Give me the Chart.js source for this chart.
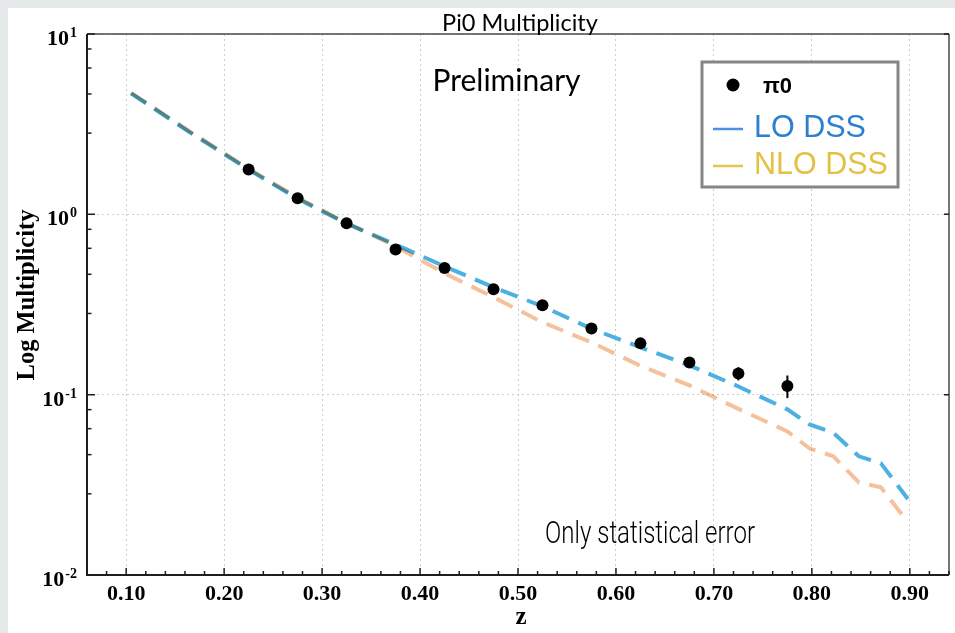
<!DOCTYPE html>
<html>
<head>
<meta charset="utf-8">
<title>Pi0 Multiplicity</title>
<script src="https://cdn.jsdelivr.net/npm/chart.js@4.4.1/dist/chart.umd.min.js"></script>
<style>
  html, body { margin: 0; padding: 0; background: #e4e8e9; }
  body { width: 955px; height: 633px; position: relative; overflow: hidden; }
  #chart { position: absolute; left: 8px; top: 8px; background: #ffffff; }
</style>
</head>
<body>
<canvas id="chart" width="947" height="625"></canvas>
<script>
// measured pi0 points (z bin centres) with statistical errors
const zData = [0.225, 0.275, 0.325, 0.375, 0.425, 0.475, 0.525, 0.575, 0.625, 0.675, 0.725, 0.775];
const pi0Mult = [1.77, 1.227, 0.892, 0.639, 0.504, 0.384, 0.313, 0.233, 0.1925, 0.151, 0.131, 0.1117];
const pi0Err = [0.02, 0.012, 0.008, 0.006, 0.005, 0.004, 0.004, 0.004, 0.004, 0.005, 0.011, 0.016];

// model curves
const zTheory = [0.105, 0.165, 0.225, 0.275, 0.325, 0.375, 0.425, 0.475, 0.525, 0.575, 0.625, 0.675, 0.725, 0.775, 0.7975, 0.822, 0.848, 0.8705, 0.898];
const loDss = [4.69, 2.85, 1.77, 1.22, 0.89, 0.68, 0.515, 0.394, 0.309, 0.232, 0.183, 0.1454, 0.111, 0.0829, 0.0684, 0.0614, 0.0455, 0.0416, 0.0264];
const nloDss = [4.72, 2.88, 1.79, 1.24, 0.895, 0.665, 0.471, 0.347, 0.252, 0.195, 0.1445, 0.1127, 0.0834, 0.0626, 0.0504, 0.0455, 0.0326, 0.0306, 0.0196];

// axis ticks
const xTickValues = [0.1, 0.2, 0.3, 0.4, 0.5, 0.6, 0.7, 0.8, 0.9];
const xTickLabels = ['0.10', '0.20', '0.30', '0.40', '0.50', '0.60', '0.70', '0.80', '0.90'];
const yTickValues = [10, 1, 0.1, 0.01];
const yTickExps = ['1', '0', '-1', '-2'];
const yMinorFactors = [0.826, 0.648, 0.465, 0.282];

const legendItems = ['\u03c00', 'LO DSS', 'NLO DSS'];

function near(a, b) { return Math.abs(a - b) < 1e-6; }
function xMajorIndex(v) { return xTickValues.findIndex(t => near(t, v)); }
function isDecade(v) {
  const l = Math.log10(v);
  return Math.abs(l - Math.round(l)) < 1e-6;
}

const toPoints = (xs, ys) => xs.map((x, i) => ({ x: x, y: ys[i] }));

const decorPlugin = {
  id: 'decor',
  beforeDatasetDraw(chart, args) {
    // NLO drawn multiplied over LO so the overlap darkens like the original
    if (args.index === 2) {
      chart.ctx.save();
      chart.ctx.globalCompositeOperation = 'multiply';
    }
  },
  afterDatasetDraw(chart, args) {
    if (args.index === 2) chart.ctx.restore();
  },
  afterDatasetsDraw(chart) {
    // error bars
    const ctx = chart.ctx;
    const xs = chart.scales.x, ys = chart.scales.y;
    ctx.save();
    ctx.strokeStyle = '#000';
    ctx.lineWidth = 2;
    zData.forEach((z, i) => {
      const px = xs.getPixelForValue(z);
      ctx.beginPath();
      ctx.moveTo(px, ys.getPixelForValue(pi0Mult[i] + pi0Err[i]));
      ctx.lineTo(px, ys.getPixelForValue(pi0Mult[i] - pi0Err[i]));
      ctx.stroke();
    });
    ctx.restore();
  },
  afterDraw(chart) {
    const ctx = chart.ctx;
    const a = chart.chartArea;
    const xs = chart.scales.x, ys = chart.scales.y;
    ctx.save();

    // frame
    ctx.strokeStyle = '#4a4a4a';
    ctx.lineWidth = 1.5;
    ctx.beginPath();
    ctx.moveTo(a.left, a.top); ctx.lineTo(a.right, a.top);
    ctx.moveTo(a.right, a.top); ctx.lineTo(a.right, a.bottom);
    ctx.stroke();
    ctx.strokeStyle = '#1e1e1e';
    ctx.lineWidth = 2;
    ctx.beginPath();
    ctx.moveTo(a.left, a.top); ctx.lineTo(a.left, a.bottom);
    ctx.lineTo(a.right, a.bottom);
    ctx.stroke();

    // inside tick marks, x
    ctx.lineWidth = 1.5;
    xs.ticks.forEach(t => {
      const px = xs.getPixelForValue(t.value);
      const len = xMajorIndex(t.value) >= 0 ? 7 : 4;
      ctx.beginPath();
      ctx.moveTo(px, a.bottom);
      ctx.lineTo(px, a.bottom - len);
      ctx.stroke();
    });

    // inside tick marks, y
    yTickValues.forEach(v => {
      const py = ys.getPixelForValue(v);
      ctx.beginPath();
      ctx.moveTo(a.left, py); ctx.lineTo(a.left + 8, py);
      ctx.moveTo(a.right, py); ctx.lineTo(a.right - 5, py);
      ctx.stroke();
    });
    yTickValues.slice(0, 3).forEach(top => {
      yMinorFactors.forEach(f => {
        const py = ys.getPixelForValue(top * f);
        ctx.beginPath();
        ctx.moveTo(a.left, py); ctx.lineTo(a.left + 4.5, py);
        ctx.stroke();
      });
    });

    // y tick labels with exponents
    ctx.fillStyle = '#000';
    ctx.textBaseline = 'alphabetic';
    yTickValues.forEach((v, i) => {
      const py = ys.getPixelForValue(v);
      ctx.font = 'bold 14px "Liberation Serif", serif';
      ctx.textAlign = 'right';
      const supW = ctx.measureText(yTickExps[i]).width;
      ctx.fillText(yTickExps[i], 69, py + 3);
      ctx.font = 'bold 22px "Liberation Serif", serif';
      ctx.fillText('10', 69 - supW - 1, py + 11);
    });

    // axis titles
    ctx.font = 'bold 24.5px "Liberation Serif", serif';
    ctx.textAlign = 'center';
    ctx.textBaseline = 'middle';
    ctx.save();
    ctx.translate(20, 287);
    ctx.rotate(-Math.PI / 2);
    ctx.fillText('Log Multiplicity', 0, 0);
    ctx.restore();
    ctx.font = 'bold 25px "Liberation Serif", serif';
    ctx.textBaseline = 'alphabetic';
    ctx.fillText('z', 513, 616);

    // title and notes
    ctx.font = '23.5px Lato, "Open Sans", sans-serif';
    ctx.fillText('Pi0 Multiplicity', 512, 23);
    ctx.font = '30px Lato, "Open Sans", sans-serif';
    ctx.fillText('Preliminary', 498.5, 83);
    ctx.font = '300 32px Roboto, "DejaVu Sans Condensed", sans-serif';
    ctx.textAlign = 'left';
    ctx.fillText('Only statistical error', 537, 535, 210);

    // legend
    ctx.fillStyle = '#ffffff';
    ctx.fillRect(694, 54, 196, 125);
    ctx.strokeStyle = '#868686';
    ctx.lineWidth = 3;
    ctx.strokeRect(694, 54, 196, 125);
    ctx.fillStyle = '#000';
    ctx.beginPath();
    ctx.arc(725, 77, 6.5, 0, Math.PI * 2);
    ctx.fill();
    ctx.font = 'bold 22px "Liberation Sans", Arial, sans-serif';
    ctx.fillText(legendItems[0], 755, 85);
    ctx.lineWidth = 2.5;
    ctx.strokeStyle = '#4a92dc';
    ctx.beginPath(); ctx.moveTo(705, 121); ctx.lineTo(735, 121); ctx.stroke();
    ctx.strokeStyle = '#e3c552';
    ctx.beginPath(); ctx.moveTo(705, 158); ctx.lineTo(735, 158); ctx.stroke();
    ctx.font = '30.5px "Liberation Sans", Arial, sans-serif';
    ctx.fillStyle = '#2d7fd2';
    ctx.fillText(legendItems[1], 746, 129);
    ctx.fillStyle = '#e2c144';
    ctx.fillText(legendItems[2], 746, 165.5);

    ctx.restore();
  }
};

new Chart(document.getElementById('chart'), {
  type: 'scatter',
  data: {
    datasets: [
      {
        label: legendItems[0],
        data: toPoints(zData, pi0Mult),
        pointRadius: 6,
        pointHoverRadius: 6,
        pointBackgroundColor: '#000',
        pointBorderWidth: 0,
        showLine: false,
        order: 0
      },
      {
        label: legendItems[1],
        data: toPoints(zTheory, loDss),
        showLine: true,
        borderColor: '#4cb0e2',
        borderWidth: 4,
        borderDash: [18, 10],
        pointRadius: 0,
        tension: 0,
        order: 2
      },
      {
        label: legendItems[2],
        data: toPoints(zTheory, nloDss),
        showLine: true,
        borderColor: '#f5c19d',
        borderWidth: 4,
        borderDash: [18, 10],
        pointRadius: 0,
        tension: 0,
        order: 1
      }
    ]
  },
  options: {
    responsive: false,
    animation: false,
    layout: { padding: { top: 26, left: 0, right: 1, bottom: 0 } },
    plugins: {
      legend: { display: false },
      title: { display: false },
      tooltip: { enabled: false }
    },
    scales: {
      x: {
        type: 'linear',
        min: 0.06,
        max: 0.94,
        afterFit(scale) { scale.height = 58; },
        ticks: {
          stepSize: 0.02,
          autoSkip: false,
          maxRotation: 0,
          padding: 0,
          color: '#000',
          font: { family: '"Liberation Serif", serif', size: 22, weight: 'bold', lineHeight: 1.75 },
          callback: (v) => {
            const i = xMajorIndex(v);
            return i >= 0 ? xTickLabels[i] : '';
          }
        },
        grid: {
          drawTicks: false,
          lineWidth: 1,
          color: (c) => (c.tick && xMajorIndex(c.tick.value) >= 0) ? '#cdcdcd' : 'rgba(0,0,0,0)'
        },
        border: { display: false, dash: [2, 3] }
      },
      y: {
        type: 'logarithmic',
        min: 0.01,
        max: 10,
        afterFit(scale) { scale.width = 79; },
        ticks: { display: false },
        grid: {
          drawTicks: false,
          lineWidth: 1,
          color: (c) => (c.tick && isDecade(c.tick.value)) ? '#cdcdcd' : 'rgba(0,0,0,0)'
        },
        border: { display: false, dash: [2, 3] }
      }
    }
  },
  plugins: [decorPlugin]
});
</script>
</body>
</html>
